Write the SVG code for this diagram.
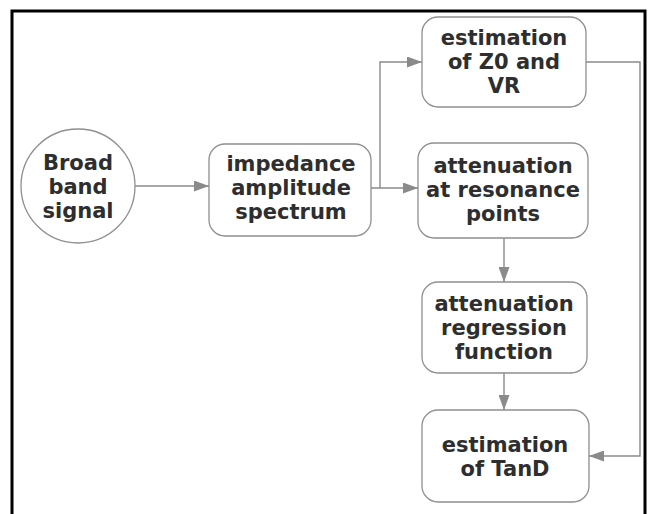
<svg xmlns="http://www.w3.org/2000/svg" width="656" height="514" viewBox="0 0 656 514">
  <defs>
    <marker id="arrow" viewBox="0 0 15 11" refX="15" refY="5.5" markerWidth="15" markerHeight="11" markerUnits="userSpaceOnUse" orient="auto">
      <path d="M0,0 L15,5.5 L0,11 Z" fill="#8a8a8a"/>
    </marker>
    <style>
      .box { fill: #ffffff; stroke: #8f8f8f; stroke-width: 1.3; }
      .lbl { font-family: "DejaVu Sans", Verdana, sans-serif; font-weight: bold; font-size: 21px; fill: #2e2e2e; text-anchor: middle; }
      .conn { fill: none; stroke: #8a8a8a; stroke-width: 1.4; }
    </style>
  </defs>

  <rect x="0" y="0" width="656" height="514" fill="#ffffff"/>
  <!-- outer frame (open at the bottom) -->
  <path d="M12,514 V11 H645 V514" fill="none" stroke="#000000" stroke-width="3"/>

  <g id="connectors">
    <path class="conn" d="M135,186 H209" marker-end="url(#arrow)"/>
    <path class="conn" d="M371,188 H418" marker-end="url(#arrow)"/>
    <path class="conn" d="M380,188 V62 H422" marker-end="url(#arrow)"/>
    <path class="conn" d="M586,62 H640 V456 H589" marker-end="url(#arrow)"/>
    <path class="conn" d="M504,238 V282" marker-end="url(#arrow)"/>
    <path class="conn" d="M504,373 V410" marker-end="url(#arrow)"/>
  </g>

  <g id="broadband">
    <circle class="box" cx="78" cy="186" r="57"/>
    <text class="lbl" x="78" y="170">Broad</text>
    <text class="lbl" x="78" y="194">band</text>
    <text class="lbl" x="78" y="218">signal</text>
  </g>

  <g id="impedance">
    <rect class="box" x="209" y="144" width="162" height="92" rx="16"/>
    <text class="lbl" x="291" y="171">impedance</text>
    <text class="lbl" x="291" y="195">amplitude</text>
    <text class="lbl" x="291" y="219">spectrum</text>
  </g>

  <g id="estZ0">
    <rect class="box" x="422" y="17" width="164" height="90" rx="16"/>
    <text class="lbl" x="504" y="45">estimation</text>
    <text class="lbl" x="504" y="69">of Z0 and</text>
    <text class="lbl" x="504" y="93">VR</text>
  </g>

  <g id="attResonance">
    <rect class="box" x="418" y="143" width="170" height="95" rx="16"/>
    <text class="lbl" x="503" y="173">attenuation</text>
    <text class="lbl" x="503" y="197">at resonance</text>
    <text class="lbl" x="503" y="221">points</text>
  </g>

  <g id="attRegression">
    <rect class="box" x="422" y="282" width="165" height="91" rx="16"/>
    <text class="lbl" x="504" y="311">attenuation</text>
    <text class="lbl" x="504" y="335">regression</text>
    <text class="lbl" x="504" y="359">function</text>
  </g>

  <g id="estTanD">
    <rect class="box" x="422" y="410" width="167" height="92" rx="16"/>
    <text class="lbl" x="505" y="452">estimation</text>
    <text class="lbl" x="505" y="476">of TanD</text>
  </g>
</svg>
